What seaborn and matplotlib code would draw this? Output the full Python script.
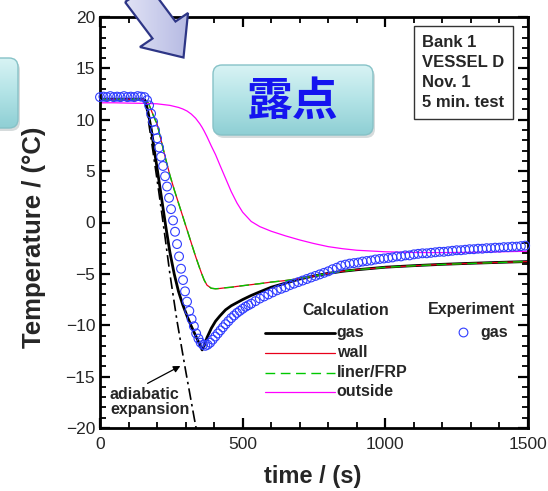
import matplotlib
matplotlib.use("Agg")
import matplotlib.pyplot as plt
import numpy as np
import seaborn as sns
from matplotlib.colors import LinearSegmentedColormap
from matplotlib.patches import FancyBboxPatch, Polygon, Rectangle
from matplotlib.ticker import MultipleLocator

# --- calculation (time in s, temperature in degC) ---
calc_time = [0, 50, 100, 150, 160, 170, 180, 190, 200, 215, 230, 245, 260, 275,
             290, 305, 320, 335, 350, 358, 365, 375, 390, 405, 420, 440, 460,
             480, 500, 530, 560, 600, 650, 700, 750, 800, 850, 900, 1000, 1100,
             1200, 1300, 1400, 1500]
gas_calc = [12.0, 12.0, 12.0, 12.0, 11.8, 10.5, 9.0, 7.1, 5.3, 2.5, -0.3, -2.9,
            -5.0, -6.7, -8.0, -9.1, -10.1, -11.0, -11.9, -12.4, -12.0, -11.2,
            -10.3, -9.6, -9.1, -8.5, -8.1, -7.8, -7.5, -7.1, -6.75, -6.3, -5.9,
            -5.5, -5.2, -4.95, -4.75, -4.6, -4.35, -4.2, -4.07, -3.97, -3.88, -3.8]
wall_calc = [12.0, 12.0, 12.0, 12.0, 11.9, 11.6, 10.9, 10.2, 9.6, 7.9, 6.2, 4.6,
             3.2, 1.9, 0.6, -0.7, -2.0, -3.3, -4.5, -5.1, -5.6, -6.1, -6.4,
             -6.45, -6.42, -6.35, -6.3, -6.22, -6.15, -6.05, -5.95, -5.8, -5.65,
             -5.45, -5.2, -4.95, -4.75, -4.6, -4.36, -4.21, -4.08, -3.98, -3.89,
             -3.8]
liner_calc = [12.0, 12.0, 12.0, 12.0, 11.9, 11.6, 10.9, 10.2, 9.6, 7.9, 6.2, 4.6,
              3.2, 1.9, 0.6, -0.7, -2.0, -3.3, -4.5, -5.1, -5.6, -6.1, -6.4,
              -6.45, -6.42, -6.35, -6.3, -6.22, -6.15, -6.05, -5.95, -5.8, -5.65,
              -5.45, -5.2, -4.95, -4.75, -4.6, -4.36, -4.21, -4.08, -3.98, -3.89,
              -3.8]
outside_calc = [11.65, 11.65, 11.62, 11.6, 11.6, 11.58, 11.57, 11.56, 11.55, 11.5,
                11.45, 11.4, 11.3, 11.2, 11.05, 10.85, 10.55, 10.15, 9.6, 9.25,
                8.9, 8.35, 7.45, 6.6, 5.6, 4.3, 3.0, 1.9, 1.0, 0.1, -0.4, -0.85,
                -1.3, -1.7, -2.05, -2.35, -2.55, -2.7, -2.85, -2.92, -2.93, -2.9,
                -2.85, -2.8]

adiabatic_time = [158, 180, 205, 225, 245, 270, 300, 330, 345]
adiabatic_temp = [12.0, 8.0, 3.2, -0.8, -5.0, -9.6, -14.4, -19.0, -21.2]

# --- experiment ---
exp_time = [0, 12, 24, 36, 48, 60, 72, 84, 96, 108, 120, 132, 144, 156,
            165, 172, 179, 186, 193, 200, 207, 214, 221, 228, 235, 242, 249,
            256, 263, 270, 277, 284, 291, 298, 305, 313, 321, 329, 337, 345,
            353, 361, 369, 377, 386, 395, 404, 413, 422, 431, 440, 450, 460,
            470, 480, 490, 500, 510, 520, 530, 545, 560, 575, 590, 605, 620,
            635, 650, 665, 680, 695, 710, 725, 740, 755, 770, 785, 800, 815,
            830, 845, 860, 875, 890, 905, 920, 935, 950, 965, 980, 995, 1010,
            1025, 1040, 1055, 1070, 1085, 1100, 1115, 1130, 1145, 1160, 1175,
            1190, 1205, 1220, 1235, 1250, 1265, 1280, 1295, 1310, 1325, 1340,
            1355, 1370, 1385, 1400, 1415, 1430, 1445, 1460, 1475, 1490]
exp_gas = [12.2, 12.25, 12.2, 12.3, 12.2, 12.25, 12.2, 12.3, 12.2, 12.25, 12.2,
           12.3, 12.25, 12.2,
           11.9, 11.4, 10.6, 9.8, 9.0, 8.2, 7.3, 6.4, 5.5, 4.5, 3.5, 2.4, 1.3,
           0.2, -0.9, -2.1, -3.3, -4.5, -5.6, -6.7, -7.7, -8.6, -9.4, -10.1,
           -10.8, -11.3, -11.7, -11.9, -12.0, -11.9, -11.7, -11.4, -11.1, -10.8,
           -10.5, -10.2, -9.9, -9.6, -9.3, -9.05, -8.8, -8.6, -8.4, -8.2, -8.05,
           -7.9, -7.65, -7.4, -7.2, -7.0, -6.8, -6.6, -6.45, -6.3, -6.1, -5.95,
           -5.8, -5.65, -5.5, -5.35, -5.2, -5.05, -4.9, -4.75, -4.55, -4.4,
           -4.2, -4.1, -4.0, -3.95, -3.9, -3.8, -3.75, -3.7, -3.6, -3.55, -3.5,
           -3.45, -3.4, -3.3, -3.3, -3.2, -3.2, -3.1, -3.05, -3.0, -3.0, -2.95,
           -2.9, -2.85, -2.85, -2.8, -2.75, -2.7, -2.7, -2.65, -2.6, -2.6, -2.55,
           -2.55, -2.5, -2.5, -2.45, -2.45, -2.4, -2.4, -2.35, -2.35, -2.3, -2.25]

x_ticks = [0, 500, 1000, 1500]
y_ticks = [-20, -15, -10, -5, 0, 5, 10, 15, 20]
calc_labels = ["gas", "wall", "liner/FRP", "outside"]
info_lines = ["Bank 1", "VESSEL D", "Nov. 1", "5 min. test"]

sns.set_style("ticks")
plt.rcParams["font.family"] = ["Liberation Sans", "DejaVu Sans"]

W, H = 548, 491
fig = plt.figure(figsize=(W / 100, H / 100), dpi=100)
ax = fig.add_axes([100 / W, 1 - 428 / H, 428 / W, 411 / H])

black, red, green, magenta, blue = "black", "#e8001a", "#00c800", "#ff00ff", "#2f3cff"
sns.lineplot(x=calc_time, y=gas_calc, color=black, lw=2.0, ax=ax)
sns.lineplot(x=calc_time, y=wall_calc, color=red, lw=0.9, ax=ax)
sns.lineplot(x=calc_time, y=liner_calc, color=green, lw=1.0,
             linestyle=(0, (7, 4)), ax=ax)
sns.lineplot(x=calc_time, y=outside_calc, color=magenta, lw=0.9, ax=ax)
sns.lineplot(x=adiabatic_time, y=adiabatic_temp, color=black, lw=1.2,
             linestyle=(0, (7, 2.5, 1.5, 2.5)), ax=ax)
sns.scatterplot(x=exp_time, y=exp_gas, s=40, marker="o", facecolor="none",
                edgecolor=blue, linewidth=0.8, ax=ax, zorder=5)
ax.collections[-1].set_clip_on(False)

ax.set_xlim(0, 1500)
ax.set_ylim(-20, 20)
ax.set_xticks(x_ticks)
ax.set_yticks(y_ticks)
ax.xaxis.set_minor_locator(MultipleLocator(100))
ax.yaxis.set_minor_locator(MultipleLocator(1))
ax.tick_params(which="both", direction="in", top=True, right=True, color="black")
ax.tick_params(which="major", length=7.5, width=1.6, labelsize=12.5)
ax.tick_params(which="minor", length=4.5, width=1.3)
ax.tick_params(axis="x", pad=6.5)
ax.tick_params(axis="y", pad=3.5)
for sp in ax.spines.values():
    sp.set_linewidth(2.0)
    sp.set_color("black")

ax.set_xlabel("time / (s)", fontsize=17, fontweight="bold")
ax.xaxis.label.set_va("center")
ax.xaxis.set_label_coords(0.498, -0.117)
ax.set_ylabel("Temperature / (\u00b0C)", fontsize=18.5, fontweight="bold")
ax.yaxis.label.set_va("center")
ax.yaxis.set_label_coords(-0.154, 0.465)

# adiabatic annotation
ax.annotate("adiabatic\nexpansion", xy=(286, -13.9), xytext=(35, -17.5),
            fontsize=11.5, fontweight="bold", ha="left", va="center",
            linespacing=1.0,
            arrowprops=dict(arrowstyle="-|>", color="black", lw=0.9,
                            mutation_scale=10, relpos=(0.38, 1.0),
                            shrinkA=1, shrinkB=1))

# legend drawn by hand (two groups)
tr = ax.transAxes
ax.text(0.575, 0.287, "Calculation", transform=tr, fontsize=11.5,
        fontweight="bold", ha="center", va="center")
leg_y = [0.232, 0.183, 0.1345, 0.088]
leg_styles = [dict(color=black, lw=2.0), dict(color=red, lw=0.9),
              dict(color=green, lw=1.0, linestyle=(0, (7, 4))),
              dict(color=magenta, lw=0.9)]
for yy, lab, st in zip(leg_y, calc_labels, leg_styles):
    ax.plot([0.3855, 0.549], [yy, yy], transform=tr, **st)
    ax.text(0.553, yy, lab, transform=tr, fontsize=11.5, fontweight="bold",
            ha="left", va="center")
ax.text(0.867, 0.288, "Experiment", transform=tr, fontsize=11.5,
        fontweight="bold", ha="center", va="center")
ax.plot([0.8474], [0.2328], transform=tr, marker="o", ms=6.3, mfc="none",
        mec=blue, mew=0.8, ls="none")
ax.text(0.888, 0.2328, "gas", transform=tr, fontsize=11.5, fontweight="bold",
        ha="left", va="center")

# info box
ax.add_patch(Rectangle((0.7336, 0.751), 0.2321, 0.227, transform=tr,
                       facecolor="white", edgecolor="#333333", lw=1.0, zorder=6))
ax.text(0.7516, 0.8657, "\n".join(info_lines), transform=tr, fontsize=12,
        fontweight="bold", ha="left", va="center", linespacing=1.42, zorder=7)

# slide decorations drawn in pixel space
deco = fig.add_axes([0, 0, 1, 1], zorder=3)
deco.set_axis_off()
deco.patch.set_alpha(0)

btn_cmap = LinearSegmentedColormap.from_list("btn", ["#d8f3f4", "#b2e3e6", "#8fcfd4"])
shade = np.linspace(0, 1, 64)[:, None]


def glossy_box(x0, y0, x1, y1, r=9):
    deco.add_patch(FancyBboxPatch((x0 + 2, y0 + 3), x1 - x0, y1 - y0,
                                  boxstyle=f"round,pad=0,rounding_size={r}",
                                  fc="#8a9a9c", ec="none", alpha=0.35))
    box = FancyBboxPatch((x0, y0), x1 - x0, y1 - y0,
                         boxstyle=f"round,pad=0,rounding_size={r}",
                         fc="none", ec="#86c2c7", lw=1.0, zorder=3)
    deco.add_patch(box)
    im = deco.imshow(shade, extent=[x0, x1, y1, y0], cmap=btn_cmap,
                     aspect="auto", zorder=2)
    im.set_clip_path(box)


glossy_box(-20, 58, 18, 128)
glossy_box(213, 65, 373, 135)
deco.text(293, 102, "露点", fontsize=33, fontweight="bold", color="#1414f0",
          family=["Noto Sans CJK JP", "DejaVu Sans"], ha="center", va="center",
          zorder=4)

arrow_pts = [(125, 2), (152.5, 38.5), (140, 47), (183.5, 57.5), (188, 13),
             (175.5, 21.5), (149, -14)]
arrow = Polygon(arrow_pts, closed=True, fc="none", ec="#2e3686", lw=1.6, zorder=3)
deco.add_patch(arrow)
arr_cmap = LinearSegmentedColormap.from_list("arr", ["#e2e4f6", "#b4b8e2"])
im = deco.imshow(np.linspace(0, 1, 64)[None, :], extent=[122, 192, 60, -15],
                 cmap=arr_cmap, aspect="auto", zorder=2)
im.set_clip_path(arrow)

deco.set_xlim(0, W)
deco.set_ylim(H, 0)

fig.savefig("out.png", dpi=100)
